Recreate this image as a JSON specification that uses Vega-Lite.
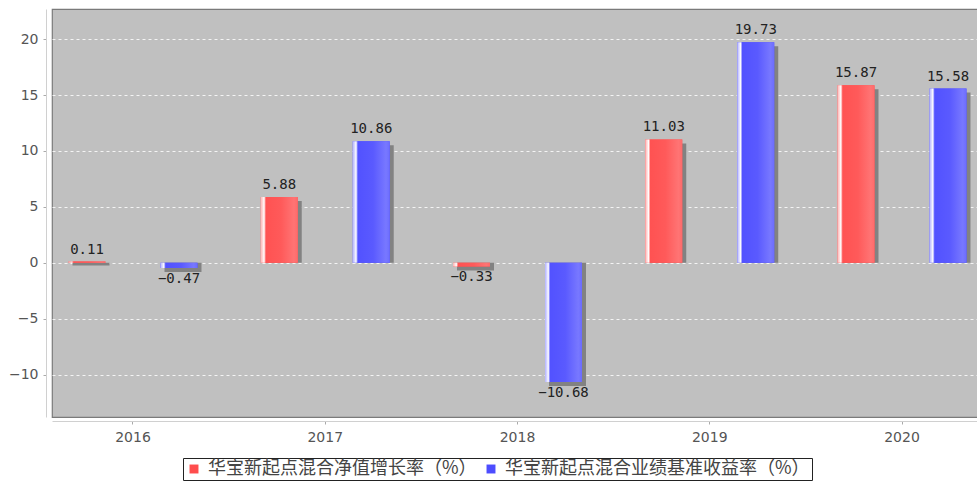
{
  "$schema": "https://vega.github.io/schema/vega-lite/v6.json",
  "autosize": {"type": "none"},
  "padding": {"left": 52, "top": 9, "right": -6, "bottom": 69},
  "width": 931,
  "height": 408,
  "background": "#ffffff",
  "config": {
    "view": {"fill": "#c0c0c0", "stroke": "#7a7a7a", "strokeWidth": 1.2},
    "axis": {"labelFont": "DejaVu Sans", "labelFontSize": 14, "labelColor": "#555555", "domainColor": "#cccccc", "tickColor": "#aaaaaa", "title": null}
  },
  "data": {
    "values": [
      {"year": "2016", "series": "华宝新起点混合净值增长率（%）", "value": 0.11},
      {"year": "2016", "series": "华宝新起点混合业绩基准收益率（%）", "value": -0.47},
      {"year": "2017", "series": "华宝新起点混合净值增长率（%）", "value": 5.88},
      {"year": "2017", "series": "华宝新起点混合业绩基准收益率（%）", "value": 10.86},
      {"year": "2018", "series": "华宝新起点混合净值增长率（%）", "value": -0.33},
      {"year": "2018", "series": "华宝新起点混合业绩基准收益率（%）", "value": -10.68},
      {"year": "2019", "series": "华宝新起点混合净值增长率（%）", "value": 11.03},
      {"year": "2019", "series": "华宝新起点混合业绩基准收益率（%）", "value": 19.73},
      {"year": "2020", "series": "华宝新起点混合净值增长率（%）", "value": 15.87},
      {"year": "2020", "series": "华宝新起点混合业绩基准收益率（%）", "value": 15.58}
    ]
  },
  "resolve": {"scale": {"xOffset": "independent"}},
  "encoding": {
    "x": {
      "field": "year", "type": "ordinal",
      "scale": {"paddingInner": 0.2, "paddingOuter": 0.0213},
      "axis": {"labelAngle": 0, "offset": 4, "tickSize": 3, "labelPadding": 6, "domainColor": "#d0d0d0"}
    },
    "xOffset": {
      "field": "series", "type": "nominal",
      "scale": {"type": "band", "domain": ["华宝新起点混合净值增长率（%）", "华宝新起点混合业绩基准收益率（%）"], "paddingInner": 0.598, "paddingOuter": 0.135}
    },
    "y": {
      "field": "value", "type": "quantitative",
      "scale": {"domain": [-13.8, 22.7], "nice": false, "zero": false},
      "axis": {"values": [-10, -5, 0, 5, 10, 15, 20], "offset": 6, "tickSize": 3, "labelPadding": 5, "grid": true, "gridColor": "#f4f4f4", "gridDash": [3, 3], "gridWidth": 1, "domainColor": "#d0d0d0"}
    }
  },
  "layer": [
    {
      "mark": {"type": "bar", "color": "#828282", "yOffset": 4},
      "encoding": {
        "y2": {"datum": 0},
        "xOffset": {
          "field": "series", "type": "nominal",
          "scale": {"type": "band", "domain": ["华宝新起点混合净值增长率（%）", "华宝新起点混合业绩基准收益率（%）"], "paddingInner": 0.598, "paddingOuter": 0.135, "align": 0.661}
        }
      }
    },
    {
      "mark": {"type": "bar"},
      "encoding": {
        "y2": {"datum": 0},
        "color": {
          "field": "series", "type": "nominal",
          "sort": ["华宝新起点混合净值增长率（%）", "华宝新起点混合业绩基准收益率（%）"],
          "scale": {"range": ["#ff4d4d", "#4d4dff"]},
          "legend": {
            "orient": "none", "legendX": 131, "legendY": 449, "direction": "horizontal", "title": null,
            "strokeColor": "#222222", "fillColor": "#ffffff", "padding": 2,
            "symbolType": "square", "symbolSize": 80, "symbolStrokeWidth": 0,
            "labelFont": "Noto Sans CJK SC", "labelFontSize": 18, "labelColor": "#444444", "labelLimit": 400,
            "labelOffset": 5, "columnPadding": 5, "symbolOffset": 0
          }
        }
      }
    },
    {
      "transform": [{"filter": "datum.series === '华宝新起点混合净值增长率（%）'"}],
      "mark": {
        "type": "bar",
        "fill": {"gradient": "linear", "x1": 0, "y1": 0, "x2": 1, "y2": 0, "stops": [
          {"offset": 0, "color": "#ffb4b4"},
          {"offset": 0.05, "color": "#ffd8d8"},
          {"offset": 0.09, "color": "#ffffff"},
          {"offset": 0.14, "color": "#ff5252"},
          {"offset": 0.55, "color": "#ff5a5a"},
          {"offset": 0.9, "color": "#ff7474"},
          {"offset": 1, "color": "#ff6a6a"}
        ]}
      },
      "encoding": {"y2": {"datum": 0}}
    },
    {
      "transform": [{"filter": "datum.series === '华宝新起点混合业绩基准收益率（%）'"}],
      "mark": {
        "type": "bar",
        "fill": {"gradient": "linear", "x1": 0, "y1": 0, "x2": 1, "y2": 0, "stops": [
          {"offset": 0, "color": "#b4b4ff"},
          {"offset": 0.05, "color": "#d8d8ff"},
          {"offset": 0.09, "color": "#ffffff"},
          {"offset": 0.14, "color": "#5252ff"},
          {"offset": 0.55, "color": "#5a5aff"},
          {"offset": 0.9, "color": "#7878ff"},
          {"offset": 1, "color": "#6c6cff"}
        ]}
      },
      "encoding": {"y2": {"datum": 0}}
    },
    {
      "transform": [{"filter": "datum.value >= 0"}],
      "mark": {"type": "text", "baseline": "bottom", "dy": -5, "font": "DejaVu Sans Mono", "fontSize": 14, "color": "#222222"},
      "encoding": {"text": {"field": "value", "type": "quantitative", "format": ".2f"}}
    },
    {
      "transform": [{"filter": "datum.value < 0"}],
      "mark": {"type": "text", "baseline": "top", "dy": 4, "font": "DejaVu Sans Mono", "fontSize": 14, "color": "#222222"},
      "encoding": {"text": {"field": "value", "type": "quantitative", "format": ".2f"}}
    }
  ]
}
